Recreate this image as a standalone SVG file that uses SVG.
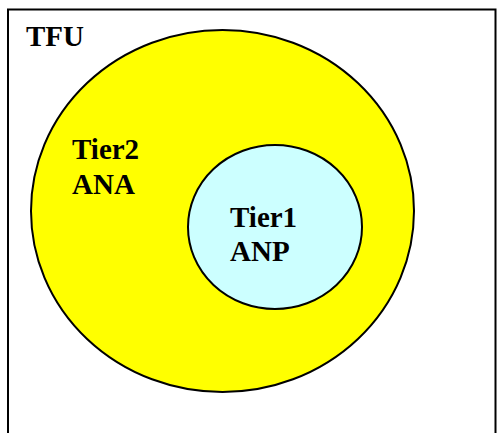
<svg xmlns="http://www.w3.org/2000/svg" width="498" height="433" viewBox="0 0 498 433">
  <style>
    .label { font-family: "Liberation Serif", "Times New Roman", serif; font-weight: bold; font-size: 29px; fill: #000; }
    .frame { fill: #fff; stroke: #000; stroke-width: 2; }
    .ring { stroke: #000; stroke-width: 2; }
  </style>
  <rect x="0" y="0" width="498" height="433" fill="#fff"/>
  <!-- outer TFU frame, open at the bottom -->
  <g id="tfu">
    <rect class="frame" x="8" y="9.5" width="487.5" height="440"/>
    <text class="label" x="26" y="46">TFU</text>
  </g>
  <!-- Tier2 region -->
  <g id="tier2">
    <ellipse class="ring" cx="222.5" cy="211" rx="191.5" ry="181" fill="#ffff00"/>
    <text class="label" x="72" y="159">Tier2</text>
    <text class="label" x="72" y="194">ANA</text>
  </g>
  <!-- Tier1 region -->
  <g id="tier1">
    <ellipse class="ring" cx="275" cy="227" rx="87" ry="82" fill="#ccffff" stroke-width="1.6"/>
    <text class="label" x="230" y="227">Tier1</text>
    <text class="label" x="230" y="261">ANP</text>
  </g>
</svg>
